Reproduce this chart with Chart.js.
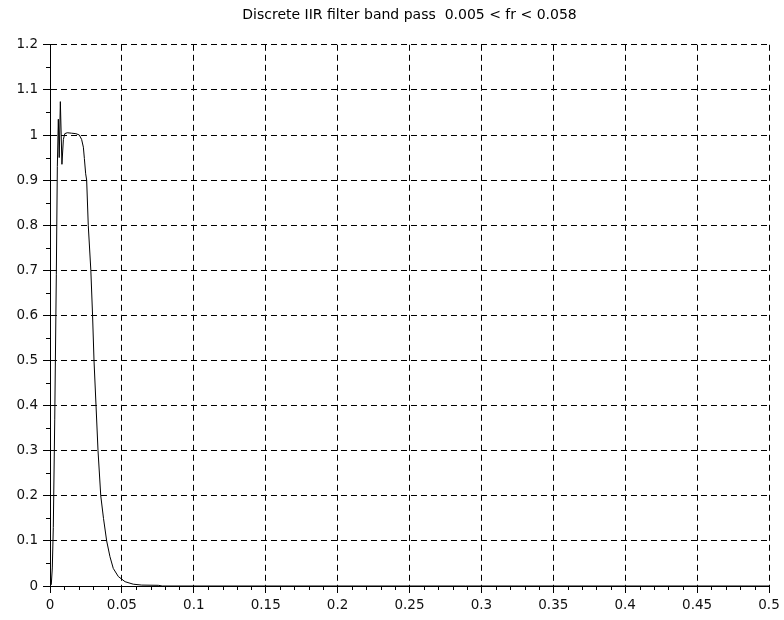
<!DOCTYPE html>
<html>
<head>
<meta charset="utf-8">
<script src="https://cdn.jsdelivr.net/npm/chart.js@4/dist/chart.umd.min.js"></script>
<style>
  html, body { margin: 0; padding: 0; background: #fff; }
  #wrap { width: 784px; height: 620px; }
</style>
</head>
<body>
<div id="wrap"><canvas id="iir"></canvas></div>
<script>
// frequency response
const freq = [0, 0.0009, 0.0016, 0.0023, 0.0033, 0.0044, 0.0051, 0.0058, 0.0064, 0.0072,
  0.0083, 0.0093, 0.0103, 0.012, 0.015, 0.018, 0.0204, 0.022, 0.0232, 0.0239,
  0.0248, 0.0255, 0.0266, 0.0284, 0.0296, 0.0306, 0.032, 0.0334, 0.0353, 0.0372,
  0.0394, 0.0417, 0.044, 0.0475, 0.0522, 0.0579, 0.0638, 0.0753, 0.078, 0.5];
const magnitude = [0, 0.003, 0.04, 0.13, 0.37, 0.69, 0.93, 1.035, 0.95, 1.074,
  0.935, 0.99, 1.003, 1.005, 1.004, 1.003, 1.0, 0.99, 0.973, 0.948,
  0.914, 0.9, 0.8, 0.7, 0.6, 0.5, 0.4, 0.3, 0.2, 0.15,
  0.1, 0.065, 0.039, 0.021, 0.0095, 0.004, 0.002, 0.0015, 0, 0];

const xTicks = [0, 0.05, 0.1, 0.15, 0.2, 0.25, 0.3, 0.35, 0.4, 0.45, 0.5];
const yTicks = [0, 0.1, 0.2, 0.3, 0.4, 0.5, 0.6, 0.7, 0.8, 0.9, 1, 1.1, 1.2];
const titleText = "Discrete IIR filter band pass  0.005 < fr < 0.058";

const font = { family: "'DejaVu Sans', sans-serif", size: 13.5 };

// scilab style minor ticks (4 between x majors, 1 between y majors)
const minorTicks = {
  id: "minorTicks",
  afterDraw(chart) {
    const { ctx, scales: { x, y }, chartArea } = chart;
    ctx.save();
    ctx.strokeStyle = "#000";
    ctx.lineWidth = 1;
    ctx.beginPath();
    for (let i = 0; i < xTicks.length - 1; i++) {
      const step = (xTicks[i + 1] - xTicks[i]) / 5;
      for (let k = 1; k < 5; k++) {
        const px = Math.round(x.getPixelForValue(xTicks[i] + k * step)) + 0.5;
        ctx.moveTo(px, chartArea.bottom);
        ctx.lineTo(px, chartArea.bottom + 4);
      }
    }
    for (let i = 0; i < yTicks.length - 1; i++) {
      const py = Math.round(y.getPixelForValue((yTicks[i] + yTicks[i + 1]) / 2)) + 0.5;
      ctx.moveTo(chartArea.left, py);
      ctx.lineTo(chartArea.left - 4, py);
    }
    ctx.stroke();
    ctx.restore();
  }
};

new Chart(document.getElementById("iir"), {
  type: "line",
  data: {
    datasets: [{
      data: freq.map((f, i) => ({ x: f, y: magnitude[i] })),
      borderColor: "#000",
      borderWidth: 1,
      pointRadius: 0,
      tension: 0,
      fill: false
    }]
  },
  options: {
    responsive: true,
    maintainAspectRatio: false,
    animation: false,
    layout: { padding: { left: 0, right: 15, top: 0, bottom: 0 } },
    plugins: {
      legend: { display: false },
      tooltip: { enabled: false },
      title: {
        display: true,
        text: titleText,
        fullSize: false,
        color: "#000",
        font: { family: font.family, size: 14, weight: "normal" },
        padding: { top: 7, bottom: 21 }
      }
    },
    scales: {
      x: {
        type: "linear",
        min: 0,
        max: 0.5,
        afterBuildTicks: axis => { axis.ticks = xTicks.map(v => ({ value: v })); },
        afterFit: axis => { axis.height = 34; },
        ticks: {
          color: "#111",
          font: font,
          padding: 4,
          maxRotation: 0,
          callback: v => String(v)
        },
        grid: { color: "#000", lineWidth: 1, tickLength: 7, tickColor: "#000" },
        border: { display: true, color: "#000", width: 1, dash: [6, 4] }
      },
      y: {
        type: "linear",
        min: 0,
        max: 1.2,
        afterBuildTicks: axis => { axis.ticks = yTicks.map(v => ({ value: v })); },
        afterFit: axis => { axis.width = 50; },
        ticks: {
          color: "#111",
          font: font,
          padding: 5,
          callback: v => String(v)
        },
        grid: { color: "#000", lineWidth: 1, tickLength: 7, tickColor: "#000" },
        border: { display: true, color: "#000", width: 1, dash: [6, 4] }
      }
    }
  },
  plugins: [minorTicks]
});
</script>
</body>
</html>
